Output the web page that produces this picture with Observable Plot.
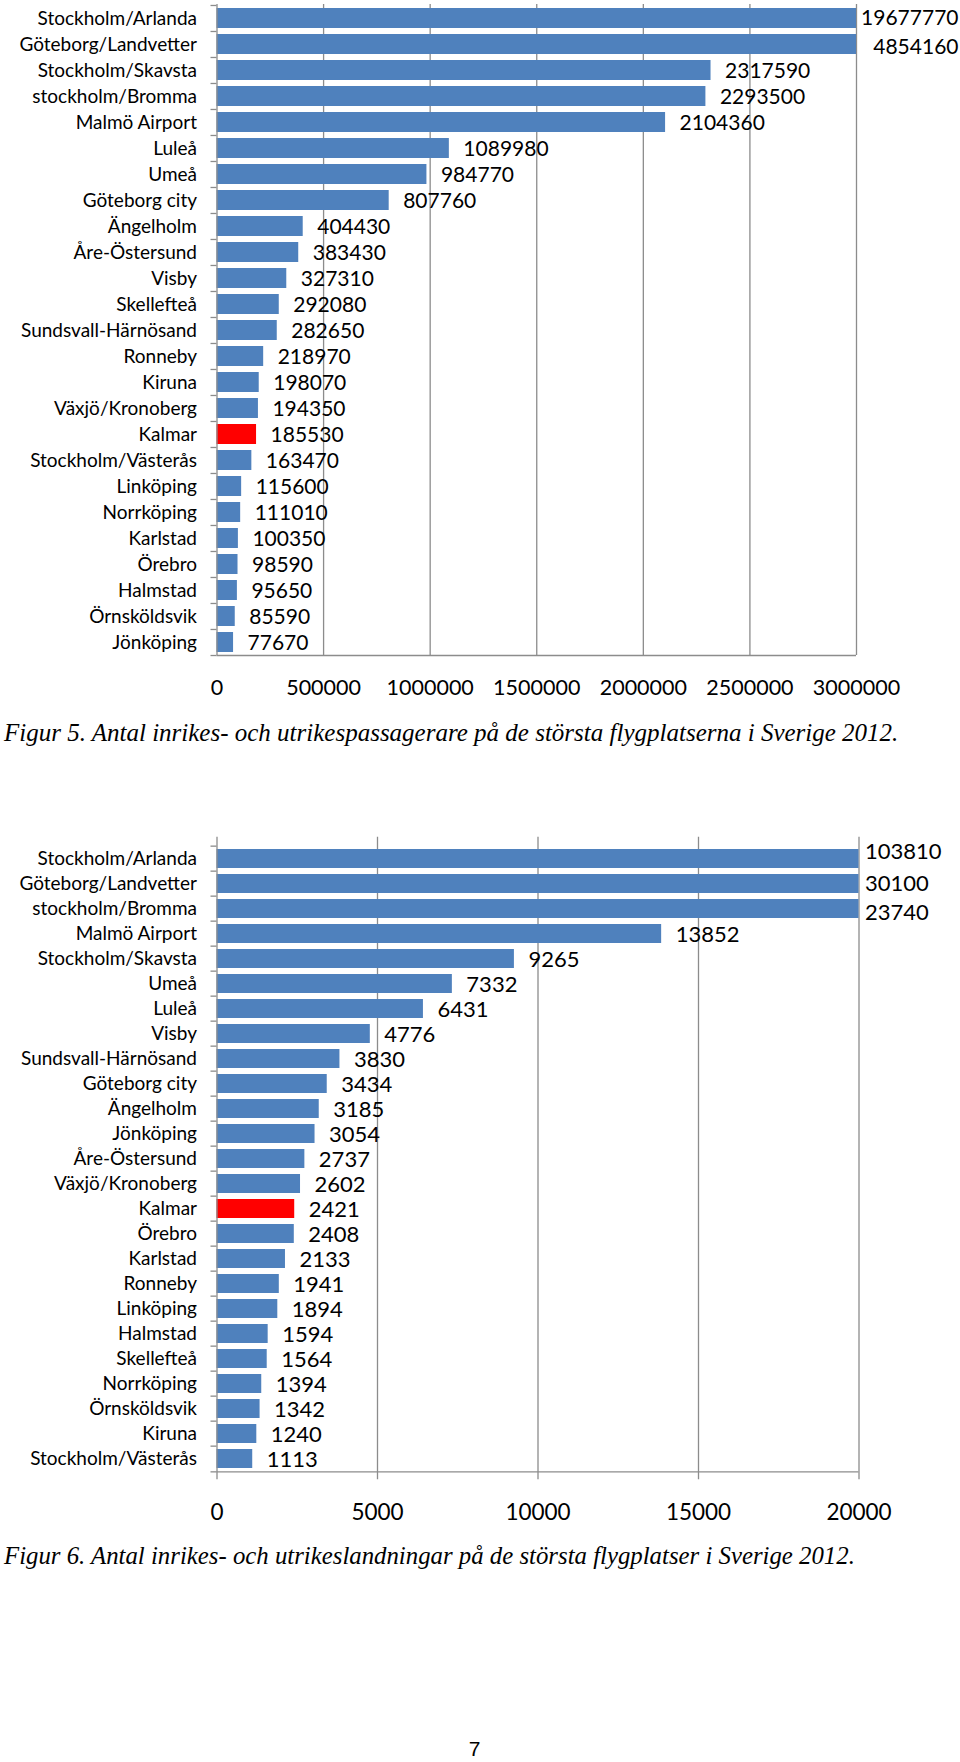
<!DOCTYPE html>
<html>
<head>
<meta charset="utf-8">
<script src="https://cdn.jsdelivr.net/npm/d3@7"></script>
<script src="https://cdn.jsdelivr.net/npm/@observablehq/plot@0.6"></script>
<style>
  html, body { margin: 0; padding: 0; background: #fff; }
  #page { position: relative; width: 960px; height: 1762px; overflow: hidden; background: #fff; }
  .chart { position: absolute; left: 0; }
  .caption { position: absolute; left: 4px; font-family: "Liberation Serif", serif; font-style: italic; font-size: 25px; line-height: 30px; color: #000; white-space: nowrap; }
  .pagenum { position: absolute; left: 0; width: 949px; text-align: center; font-family: "Liberation Sans", Arial, sans-serif; font-size: 21px; line-height: 18px; color: #000; }
</style>
</head>
<body>
<div id="page">
  <div id="chart1" class="chart" style="top:0px"></div>
  <div class="caption" style="top:718px">Figur 5. Antal inrikes- och utrikespassagerare på de största flygplatserna i Sverige 2012.</div>
  <div id="chart2" class="chart" style="top:800px"></div>
  <div class="caption" style="top:1541px;font-size:24.8px">Figur 6. Antal inrikes- och utrikeslandningar på de största flygplatser i Sverige 2012.</div>
  <div class="pagenum" style="top:1740px">7</div>
</div>
<script>
// ---- Figure 5: passengers ----
const airports1 = ["Stockholm/Arlanda","Göteborg/Landvetter","Stockholm/Skavsta","stockholm/Bromma","Malmö Airport","Luleå","Umeå","Göteborg city","Ängelholm","Åre-Östersund","Visby","Skellefteå","Sundsvall-Härnösand","Ronneby","Kiruna","Växjö/Kronoberg","Kalmar","Stockholm/Västerås","Linköping","Norrköping","Karlstad","Örebro","Halmstad","Örnsköldsvik","Jönköping"];
const passengers = [19677770,4854160,2317590,2293500,2104360,1089980,984770,807760,404430,383430,327310,292080,282650,218970,198070,194350,185530,163470,115600,111010,100350,98590,95650,85590,77670];
const ticks1 = [0,500000,1000000,1500000,2000000,2500000,3000000];

// ---- Figure 6: landings ----
const airports2 = ["Stockholm/Arlanda","Göteborg/Landvetter","stockholm/Bromma","Malmö Airport","Stockholm/Skavsta","Umeå","Luleå","Visby","Sundsvall-Härnösand","Göteborg city","Ängelholm","Jönköping","Åre-Östersund","Växjö/Kronoberg","Kalmar","Örebro","Karlstad","Ronneby","Linköping","Halmstad","Skellefteå","Norrköping","Örnsköldsvik","Kiruna","Stockholm/Västerås"];
const landings = [103810,30100,23740,13852,9265,7332,6431,4776,3830,3434,3185,3054,2737,2602,2421,2408,2133,1941,1894,1594,1564,1394,1342,1240,1113];
const ticks2 = [0,5000,10000,15000,20000];

const highlight = "Kalmar";

const BLUE = "#4F81BD", RED = "#FF0000", GRID = "#8c8c8c";
const FONT = "Lato, 'Noto Sans', sans-serif";

function barChart({names, values, ticks, height, marginTop, marginBottom, marginRight,
                   cappedAnchor, cappedDx, cappedNudge, labelSize, tickSize}) {
  const data = names.map((name, i) => ({name, value: values[i]}));
  const xmax = ticks[ticks.length - 1];
  const n = names.length;
  const step = (height - marginTop - marginBottom) / n;
  const last = names[n - 1];
  const capped = data.filter(d => d.value > xmax);
  return Plot.plot({
    width: 960,
    height,
    marginLeft: 216.5,
    marginRight,
    marginTop,
    marginBottom,
    style: {fontFamily: FONT, color: "#000", background: "transparent", overflow: "visible"},
    x: {domain: [0, xmax], clamp: true, axis: null},
    y: {type: "band", domain: names, paddingInner: 0.25, paddingOuter: 0.125, axis: null},
    marks: [
      // vertical gridlines
      Plot.ruleX(ticks.slice(1), {stroke: GRID, strokeWidth: 1.3}),
      // bars
      Plot.barX(data.filter(d => d.name !== highlight), {x: "value", y: "name", fill: BLUE}),
      Plot.barX(data.filter(d => d.name === highlight), {x: "value", y: "name", fill: RED}),
      // value axis line (left) and category ticks at band boundaries
      Plot.ruleX([0], {stroke: GRID, strokeWidth: 1.3}),
      Plot.axisY(names, {tickSize: 6, tickFormat: () => "", stroke: GRID, strokeWidth: 1.3, dy: -step / 2, label: null}),
      Plot.axisY([last], {tickSize: 6, tickFormat: () => "", stroke: GRID, strokeWidth: 1.3, dy: step / 2, label: null}),
      Plot.ruleY([last], {x1: 0, x2: xmax, stroke: GRID, strokeWidth: 1.3, dy: step / 2}),
      // category labels
      Plot.axisY({tickSize: 0, tickPadding: 20, fontSize: 19, label: null, fill: "#000"}),
      // x tick labels
      Plot.axisX({ticks, tickSize: 0, tickPadding: 24, fontSize: tickSize, tickFormat: d => String(d), label: null, fill: "#000"}),
      // value labels
      Plot.text(data.filter(d => d.value <= xmax), {x: "value", y: "name", text: d => String(d.value), textAnchor: "start", dx: 14, dy: 1, fontSize: labelSize, fill: "#000"}),
      ...capped.map((d, i) => Plot.text([d], {x: "value", y: "name", text: d => String(d.value), textAnchor: cappedAnchor, dx: cappedDx, dy: cappedNudge[i], fontSize: labelSize, fill: "#000"}))
    ]
  });
}

document.getElementById("chart1").appendChild(barChart({
  names: airports1, values: passengers, ticks: ticks1,
  height: 710, marginTop: 4, marginBottom: 55, marginRight: 104,
  cappedAnchor: "end", cappedDx: 102, cappedNudge: [0, 3],
  labelSize: 21, tickSize: 21.5
}));

document.getElementById("chart2").appendChild(barChart({
  names: airports2, values: landings, ticks: ticks2,
  height: 730, marginTop: 36.7, marginBottom: 50.7, marginRight: 101.5,
  cappedAnchor: "start", cappedDx: 6, cappedNudge: [-7, 0, 4],
  labelSize: 22, tickSize: 22.5
}));
</script>
</body>
</html>
